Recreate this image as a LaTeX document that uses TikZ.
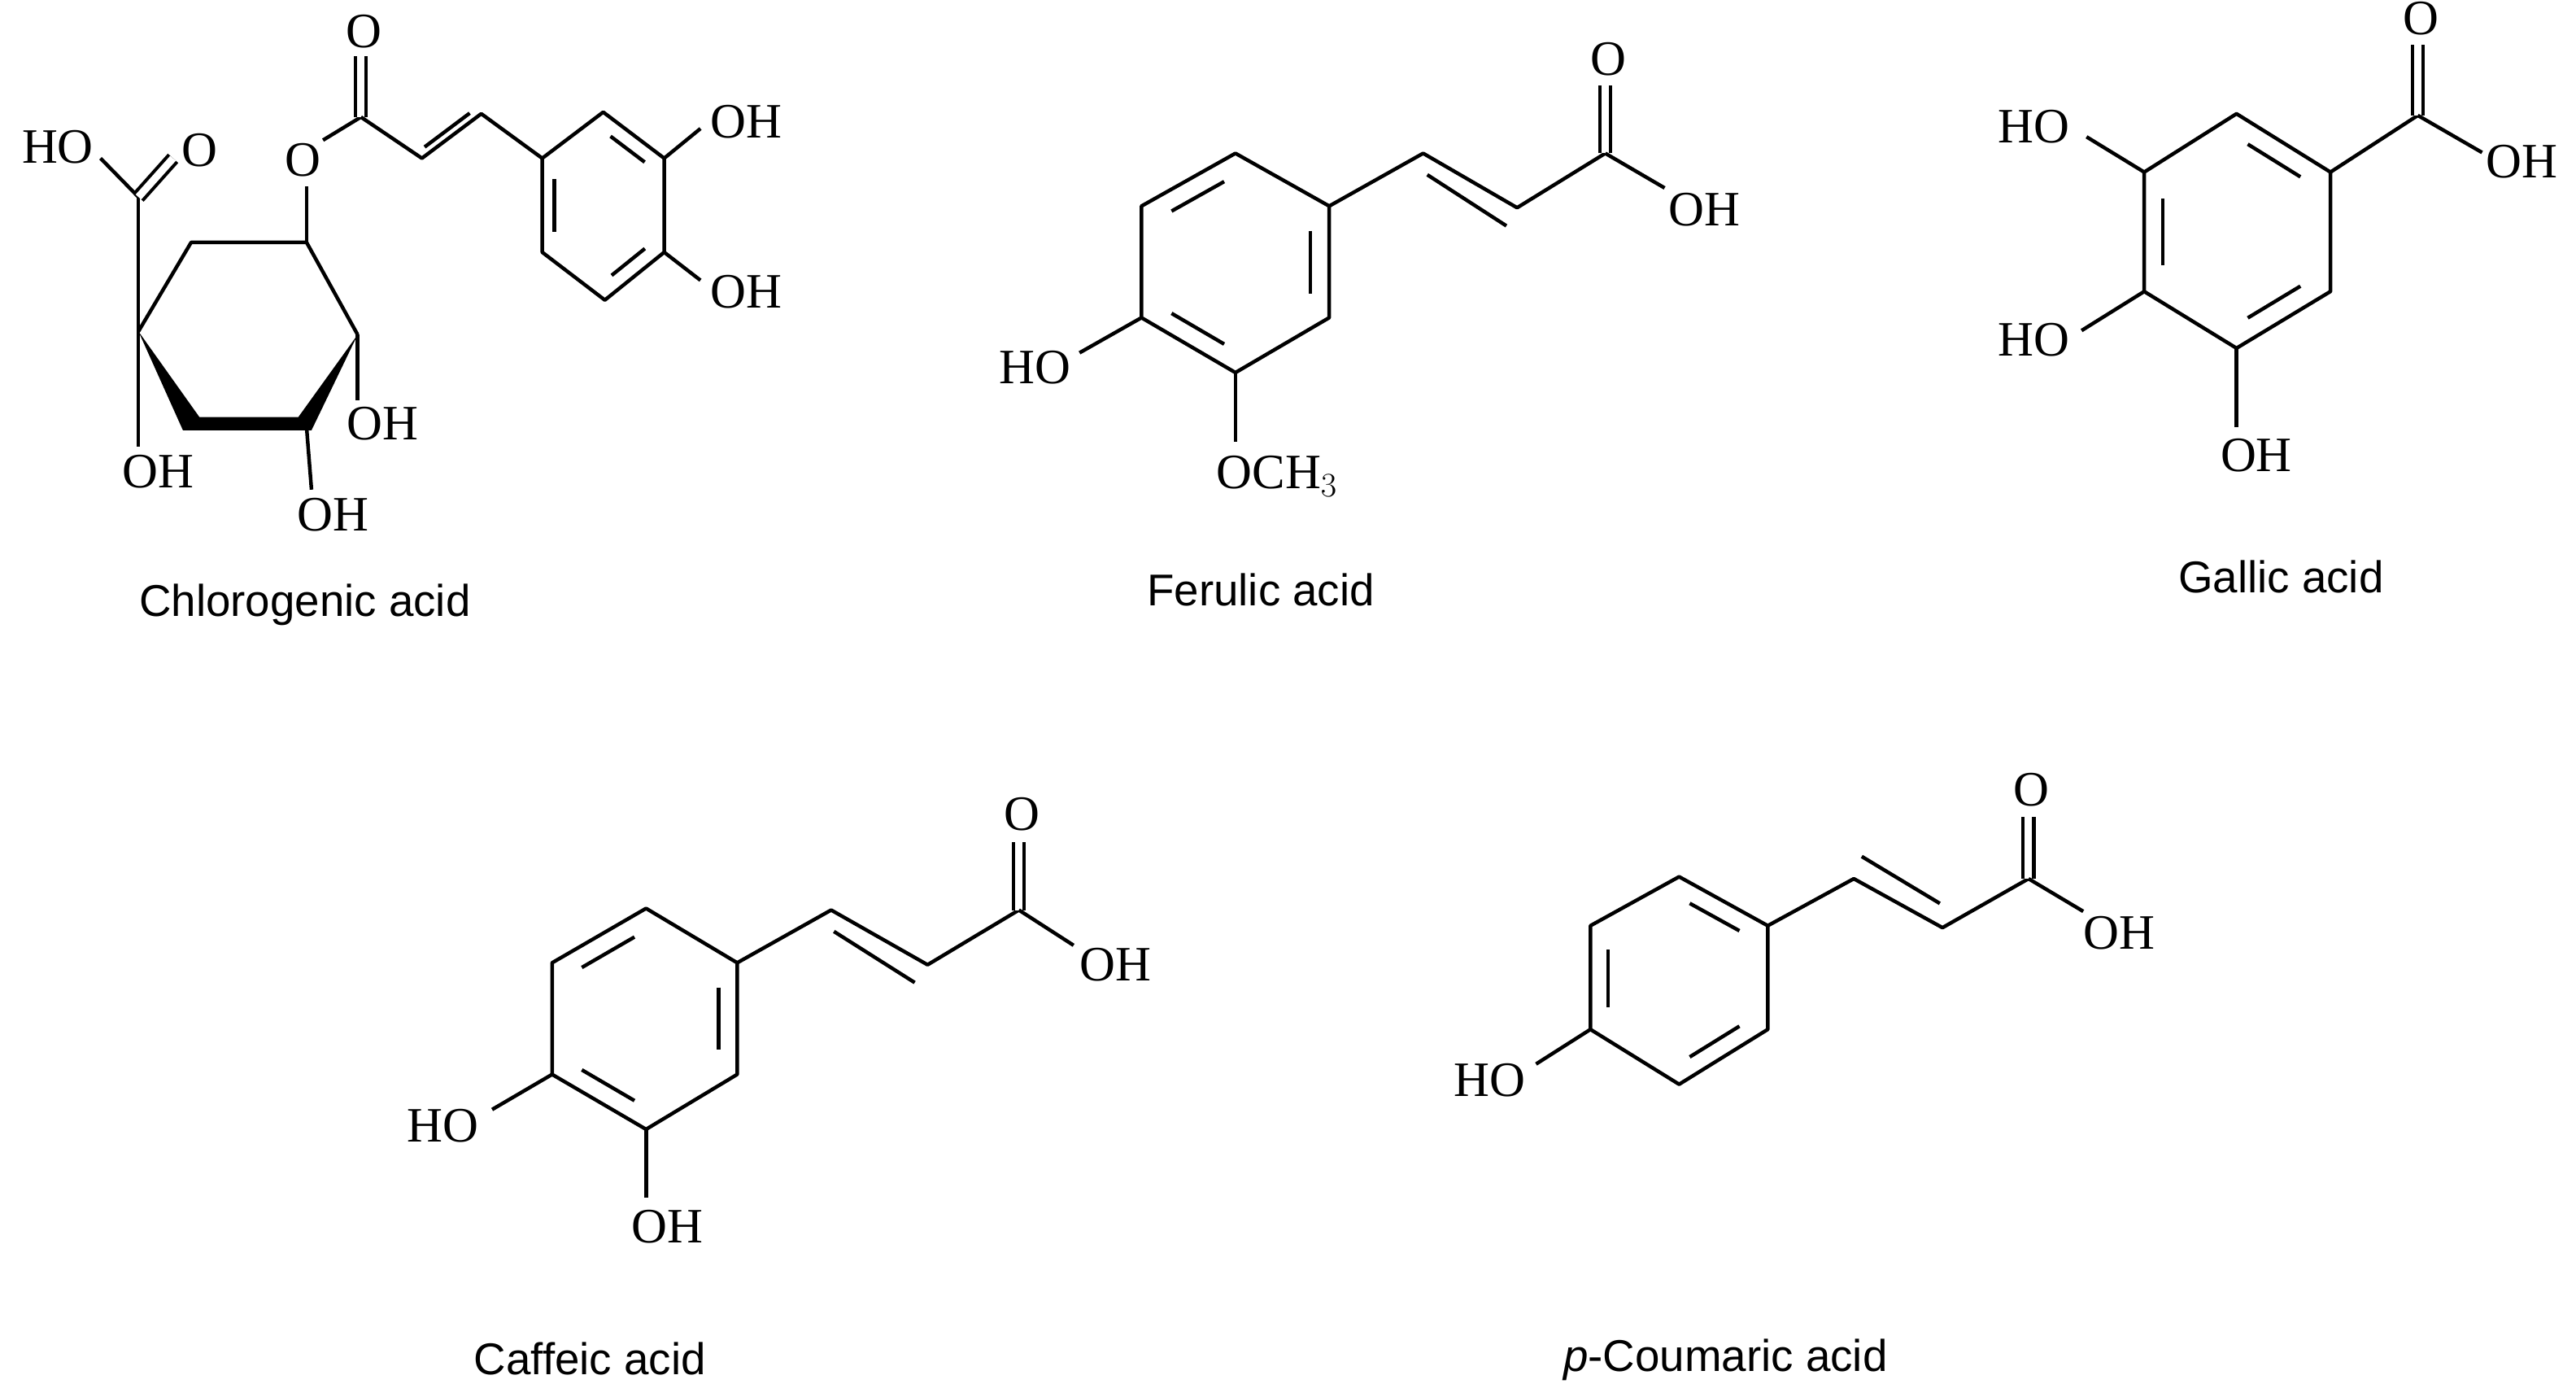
\documentclass[tikz,border=0pt]{standalone}
\usepackage{fontspec}
\setmainfont{Liberation Serif}
\newfontfamily\lsans{Liberation Sans}
\usetikzlibrary{calc}
\begin{document}
\begin{tikzpicture}[x=1pt,y=-1pt,line width=2.2pt,line join=round,
  atom/.style={inner sep=0pt,font=\fontsize{30}{30}\selectfont},
  title/.style={inner sep=0pt,font=\lsans\fontsize{27}{27}\selectfont},
  dbl/.style={double,double distance=4.5pt,line width=2pt}]
\useasboundingbox (0,0) rectangle (1563,847);
\newcommand{\inner}[3]{\draw ($(#1)!0.15!(#2)!0.2!(#3)$) -- ($(#2)!0.15!(#1)!0.2!(#3)$);}
% ---------- Chlorogenic acid
\coordinate (k1) at (84,201); \coordinate (k2) at (116,147); \coordinate (k3) at (186,147);
\coordinate (k4) at (217,203); \coordinate (k5) at (184,257); \coordinate (k6) at (115,257);
\draw (k1) -- (k2) -- (k3) -- (k4);
\fill (84,201)--(121,253)--(181,253)--(217,203)--(189,261)--(111,261)--cycle;
\coordinate (kc) at (84,119.5);
\draw (k1) -- (kc);
\node[atom] (kho) at (35,89) {HO};
\node[atom] (ko1) at (121,91) {O};
\draw (kc) -- (61,96);
\draw[dbl] (kc) -- (105,96);
\node[atom] (koh1) at (96,286) {OH};
\draw (k1) -- (84,271);
\node[atom] (koh2) at (232,257) {OH};
\draw (k4) -- (217,243);
\node[atom] (koh3) at (202,312) {OH};
\draw (186,259) -- (189,297);
\node[atom] (koe) at (184,97) {O};
\draw (k3) -- (186,113);
\coordinate (ke) at (219,71);
\draw (196,85) -- (ke);
\node[atom] (ko2) at (221,19) {O};
\draw[dbl] (ke) -- (219,34);
\coordinate (ka) at (256,96); \coordinate (kb) at (292,69);
\coordinate (r1) at (329,96); \coordinate (r2) at (366,68); \coordinate (r3) at (403,96);
\coordinate (r4) at (403,153); \coordinate (r5) at (367,182); \coordinate (r6) at (329,153);
\coordinate (rc) at (366,124.5);
\draw (ke) -- (ka) -- (kb) -- (r1);
\draw ($(ka)!0.12!(kb)!4.5pt!90:(kb)$) -- ($(kb)!0.12!(ka)!4.5pt!-90:(ka)$);
\draw (r1) -- (r2) -- (r3) -- (r4) -- (r5) -- (r6) -- cycle;
\inner{r1}{r6}{rc} \inner{r2}{r3}{rc} \inner{r4}{r5}{rc}
\node[atom] (koh4) at (453,74) {OH};
\draw (r3) -- (425,78);
\node[atom] (koh5) at (453,177) {OH};
\draw (r4) -- (425,170);
\node[title] (t1) at (185,367) {Chlorogenic acid};
% ---------- Ferulic acid
\coordinate (f1) at (749.6,93); \coordinate (f2) at (806.5,125); \coordinate (f3) at (806.5,192.7);
\coordinate (f4) at (749.6,226); \coordinate (f5) at (692.6,192.7); \coordinate (f6) at (692.6,125);
\coordinate (fc) at (749.6,159.5);
\draw (f1)--(f2)--(f3)--(f4)--(f5)--(f6)--cycle;
\inner{f1}{f6}{fc} \inner{f2}{f3}{fc} \inner{f4}{f5}{fc}
\coordinate (fa) at (863.5,93); \coordinate (fb) at (920.5,126); \coordinate (fk) at (974,93);
\draw (f2)--(fa)--(fb)--(fk);
\draw (866,106) -- (914,137);
\node[atom] (fo) at (976,36) {O};
\draw[dbl] (fk) -- (974,52);
\node[atom] (foh) at (1034,127) {OH};
\draw (fk) -- (1010,114);
\node[atom] (fho) at (628,223) {HO};
\draw (f5) -- (655,214);
\node[atom,anchor=west] (fme) at (737,289) {OCH$_3$};
\draw (f4) -- (749.6,268);
\node[title] (t2) at (765,358) {Ferulic acid};
% ---------- Gallic acid
\coordinate (g1) at (1357,69); \coordinate (g2) at (1414,104.4); \coordinate (g3) at (1414,176.8);
\coordinate (g4) at (1357,211.2); \coordinate (g5) at (1301,176.8); \coordinate (g6) at (1301,104.4);
\coordinate (gc) at (1357,140);
\draw (g1)--(g2)--(g3)--(g4)--(g5)--(g6)--cycle;
\inner{g1}{g2}{gc} \inner{g5}{g6}{gc} \inner{g3}{g4}{gc}
\coordinate (gk) at (1467,70);
\draw (g2) -- (gk);
\node[atom] (go) at (1469,11) {O};
\draw[dbl] (gk) -- (1467,27);
\node[atom] (goh) at (1530,98) {OH};
\draw (gk) -- (1506,92.5);
\node[atom] (gho1) at (1234,77) {HO};
\draw (g6) -- (1266,83);
\node[atom] (gho2) at (1234,206) {HO};
\draw (g5) -- (1263,200.5);
\node[atom] (goh2) at (1369,276) {OH};
\draw (g4) -- (1357,259);
\node[title] (t3) at (1384,350) {Gallic acid};
% ---------- Caffeic acid
\coordinate (c1) at (392,551); \coordinate (c2) at (447.3,584); \coordinate (c3) at (447.3,651.7);
\coordinate (c4) at (392,685); \coordinate (c5) at (335,651.7); \coordinate (c6) at (335,584);
\coordinate (cc) at (391,618);
\draw (c1)--(c2)--(c3)--(c4)--(c5)--(c6)--cycle;
\inner{c1}{c6}{cc} \inner{c2}{c3}{cc} \inner{c4}{c5}{cc}
\coordinate (ca) at (504.3,552); \coordinate (cb) at (562.8,585.2); \coordinate (ck) at (618.2,552);
\draw (c2)--(ca)--(cb)--(ck);
\draw (506,565) -- (555,596);
\node[atom] (co) at (620,494) {O};
\draw[dbl] (ck) -- (618.2,511);
\node[atom] (coh) at (677,585) {OH};
\draw (ck) -- (651.4,573.4);
\node[atom] (cho) at (268.5,683) {HO};
\draw (c5) -- (298.6,673);
\node[atom] (coh2) at (405,744) {OH};
\draw (c4) -- (392,726.5);
\node[title] (t4) at (358,824) {Caffeic acid};
% ---------- p-Coumaric acid
\coordinate (p1) at (1018.8,531.8); \coordinate (p2) at (1072.6,561.5); \coordinate (p3) at (1072.6,624.4);
\coordinate (p4) at (1018.8,657.7); \coordinate (p5) at (965,624.4); \coordinate (p6) at (965,561.5);
\coordinate (pc) at (1018.8,594.7);
\draw (p1)--(p2)--(p3)--(p4)--(p5)--(p6)--cycle;
\inner{p1}{p2}{pc} \inner{p5}{p6}{pc} \inner{p3}{p4}{pc}
\coordinate (pa) at (1124.8,533); \coordinate (pb) at (1178.6,562.7); \coordinate (pk) at (1230.8,533);
\draw (p2)--(pa)--(pb)--(pk);
\draw (1129.6,519.5) -- (1177,548);
\node[atom] (po) at (1232.4,479) {O};
\draw[dbl] (pk) -- (1230.8,495.5);
\node[atom] (poh) at (1286,566) {OH};
\draw (pk) -- (1264,552.8);
\node[atom] (pho) at (904,655) {HO};
\draw (p5) -- (932,645.4);
\node[title] (t5) at (1047,825) {\itshape p\upshape-Coumaric acid};
\end{tikzpicture}
\end{document}
